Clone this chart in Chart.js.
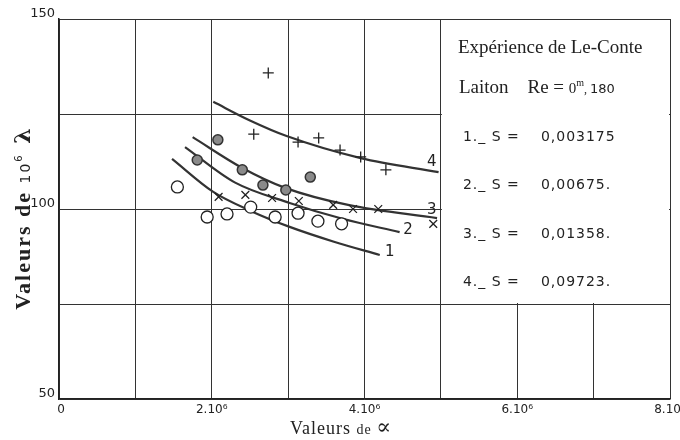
<!DOCTYPE html>
<html lang="fr">
<head>
    <meta charset="UTF-8">
    <title>Expérience de Le-Conte</title>
    <style>
        body { margin: 0; background: #fff; }
        #wrap { width: 680px; height: 440px; }
    </style>
    <script src="https://cdn.jsdelivr.net/npm/chart.js"></script>
</head>
<body>
<div id="wrap"><canvas id="chart" width="680" height="440"></canvas></div>
<script>
// x values are in units of 10^6, y values are 10^6 λ
const xTicks = [0, 2, 4, 6, 8];
const xTickLabels = ['0', '2.10⁶', '4.10⁶', '6.10⁶', '8.10⁶'];
const yTicks = [50, 100, 150];
const yTickLabels = ['50', '100', '150'];

// measured points (1: open circles, 2: crosses, 3: grey dots, 4: plus signs)
const s1X = [1.55, 1.94, 2.20, 2.51, 2.83, 3.13, 3.39, 3.70];
const s1Y = [105.8, 97.9, 98.7, 100.5, 97.9, 98.9, 96.8, 96.1];
const s2X = [2.09, 2.44, 2.79, 3.14, 3.59, 3.85, 4.18, 4.90];
const s2Y = [103.2, 103.7, 102.9, 102.1, 101.1, 100.0, 100.0, 96.1];
const s3X = [1.81, 2.08, 2.40, 2.67, 2.97, 3.29];
const s3Y = [112.9, 118.2, 110.3, 106.3, 105.0, 108.4];
const s4X = [2.55, 2.74, 3.13, 3.40, 3.68, 3.95, 4.28];
const s4Y = [119.7, 135.8, 117.6, 118.7, 115.5, 113.7, 110.3];

// drawn curves
const c1X = [1.48, 2.02, 2.51, 3.02, 3.60, 4.20];
const c1Y = [113.2, 104.5, 99.5, 95.3, 91.4, 87.9];
const c2X = [1.65, 2.30, 3.02, 3.70, 4.46];
const c2Y = [116.3, 107.0, 101.6, 97.5, 93.9];
const c3X = [1.75, 2.40, 2.97, 3.80, 4.95];
const c3Y = [118.9, 110.8, 105.5, 101.0, 97.6];
const c4X = [2.02, 2.50, 2.98, 3.95, 4.97];
const c4Y = [128.2, 123.3, 119.2, 113.4, 109.7];

// curve numbers written next to the curve ends
const tagText = ['1', '2', '3', '4'];
const tagX = [4.33, 4.57, 4.88, 4.88];
const tagY = [88.7, 94.5, 99.7, 112.4];

const boxTitle = 'Expérience de Le-Conte';
const sNames = ['1._ S =', '2._ S =', '3._ S =', '4._ S ='];
const sValues = ['0,003175', '0,00675.', '0,01358.', '0,09723.'];

const pts = (xs, ys) => xs.map((x, i) => ({ x: x, y: ys[i] }));
const ink = '#222';

function curve(xs, ys) {
    return {
        data: pts(xs, ys),
        showLine: true,
        borderColor: '#333',
        borderWidth: 2.2,
        pointRadius: 0,
        cubicInterpolationMode: 'monotone',
        fill: false
    };
}

function drawRun(ctx, parts, x, y) {
    for (const p of parts) {
        ctx.font = p.font;
        ctx.fillText(p.t, x, y + (p.dy || 0));
        x += ctx.measureText(p.t).width;
    }
}
function runWidth(ctx, parts) {
    let w = 0;
    for (const p of parts) { ctx.font = p.font; w += ctx.measureText(p.t).width; }
    return w;
}

const paper = {
    id: 'paper',
    beforeDatasetsDraw(chart) {
        const { ctx, scales: { x, y } } = chart;
        const l = x.getPixelForValue(5), r = x.getPixelForValue(8);
        const t = y.getPixelForValue(150), b = y.getPixelForValue(75);
        ctx.save();
        ctx.fillStyle = '#fff';
        ctx.fillRect(l + 1, t + 1, r - l - 2, b - t - 2);
        ctx.restore();
    },
    afterDraw(chart) {
        const { ctx, chartArea: a, scales: { x, y } } = chart;
        ctx.save();
        ctx.fillStyle = ink;

        // tick labels
        ctx.font = '13px "DejaVu Sans"';
        ctx.textAlign = 'right';
        ctx.textBaseline = 'middle';
        yTicks.forEach((v, i) => ctx.fillText(yTickLabels[i], a.left - 4, y.getPixelForValue(v) - 5));
        ctx.font = '12px "DejaVu Sans"';
        ctx.textAlign = 'center';
        xTicks.forEach((v, i) => ctx.fillText(xTickLabels[i], x.getPixelForValue(v) + (i === 0 ? 2 : 0), a.bottom + 11));

        // curve numbers
        ctx.font = '15px "DejaVu Sans"';
        tagText.forEach((t, i) => ctx.fillText(t, x.getPixelForValue(tagX[i]), y.getPixelForValue(tagY[i])));

        // x title
        ctx.textAlign = 'left';
        ctx.textBaseline = 'alphabetic';
        ctx.letterSpacing = '1px';
        drawRun(ctx, [
            { t: 'Valeurs ', font: '18px "Liberation Serif"' },
            { t: 'de ', font: '14px "Liberation Serif"' },
            { t: '∝', font: '22px "DejaVu Serif"' }
        ], 290, a.bottom + 35);

        // y title
        ctx.save();
        ctx.translate(22, 218);
        ctx.rotate(-Math.PI / 2);
        ctx.letterSpacing = '2px';
        const yt = [
            { t: 'Valeurs de ', font: 'bold 22px "Liberation Serif"' },
            { t: '10', font: '14px "DejaVu Sans"' },
            { t: '6', font: '10px "DejaVu Sans"', dy: -8 },
            { t: ' λ', font: 'bold 22px "DejaVu Serif"' }
        ];
        drawRun(ctx, yt, -runWidth(ctx, yt) / 2, 8);
        ctx.restore();

        // text box
        ctx.letterSpacing = '0px';
        const bx = x.getPixelForValue(5) + 17;
        const top = a.top;
        ctx.font = '19px "Liberation Serif"';
        ctx.fillText(boxTitle, bx, top + 34);
        drawRun(ctx, [
            { t: 'Laiton', font: '19px "Liberation Serif"' },
            { t: '    Re = ', font: '19px "Liberation Serif"' },
            { t: '0', font: '15px "Liberation Serif"' },
            { t: 'm', font: '10px "Liberation Serif"', dy: -7 },
            { t: ', ', font: '12px "Liberation Serif"' },
            { t: '180', font: '13px "DejaVu Sans"' }
        ], bx + 1, top + 74);
        ctx.letterSpacing = '1px';
        ctx.font = '14px "DejaVu Sans"';
        ctx.textBaseline = 'middle';
        sNames.forEach((n, i) => {
            const yy = top + 118 + i * 48.5;
            ctx.fillText(n, bx + 5, yy);
            ctx.fillText(sValues[i], bx + 83, yy);
        });
        ctx.restore();
    }
};

new Chart(document.getElementById('chart'), {
    type: 'scatter',
    data: {
        datasets: [
            { data: pts(s1X, s1Y), pointStyle: 'circle', pointRadius: 6, pointBackgroundColor: '#fff', pointBorderColor: ink, pointBorderWidth: 1.3 },
            { data: pts(s2X, s2Y), pointStyle: 'crossRot', pointRadius: 5.5, pointBorderColor: ink, pointBorderWidth: 1.3 },
            { data: pts(s3X, s3Y), pointStyle: 'circle', pointRadius: 5, pointBackgroundColor: '#8a8a8a', pointBorderColor: '#333', pointBorderWidth: 1.5 },
            { data: pts(s4X, s4Y), pointStyle: 'cross', pointRadius: 5.5, pointBorderColor: ink, pointBorderWidth: 1.3 },
            curve(c1X, c1Y),
            curve(c2X, c2Y),
            curve(c3X, c3Y),
            curve(c4X, c4Y)
        ]
    },
    options: {
        responsive: false,
        animation: false,
        layout: { padding: { left: 59, top: 19, right: 10, bottom: 41 } },
        plugins: { legend: { display: false }, tooltip: { enabled: false } },
        scales: {
            x: {
                type: 'linear', min: 0, max: 8,
                ticks: { stepSize: 1, display: false },
                grid: { color: '#333', lineWidth: 1, drawTicks: false },
                border: { color: ink, width: 1.5 }
            },
            y: {
                min: 50, max: 150,
                ticks: { stepSize: 25, display: false },
                grid: { color: '#333', lineWidth: 1, drawTicks: false },
                border: { color: ink, width: 1.5 }
            }
        }
    },
    plugins: [paper]
});
</script>
</body>
</html>
